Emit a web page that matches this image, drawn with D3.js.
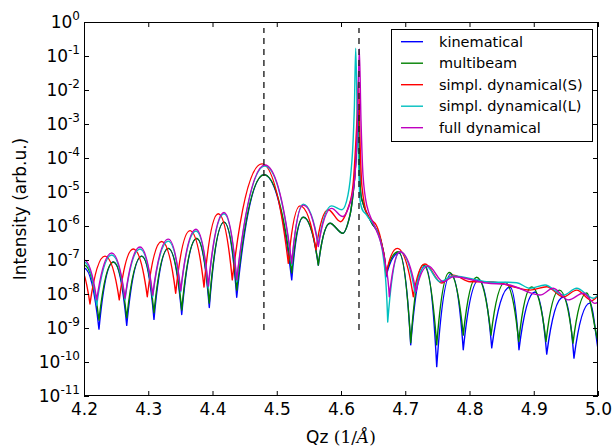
<!DOCTYPE html>
<html><head><meta charset="utf-8">
<script src="https://cdn.jsdelivr.net/npm/d3@7"></script>
<style>body{margin:0;background:#fff} svg{display:block} text{font-family:"DejaVu Sans",sans-serif}</style>
</head><body><svg id="c" width="612" height="448"></svg>
<script>
// ---------- data ----------
const seriesNames = ["kinematical", "multibeam", "simpl. dynamical(S)", "simpl. dynamical(L)", "full dynamical"];

const qKin = [4.2, 4.2233, 4.2456, 4.2665, 4.2898, 4.3089, 4.3312, 4.3521, 4.3754, 4.3950, 4.4179, 4.4377, 4.4802, 4.5233, 4.5413, 4.5647, 4.5829, 4.6027, 4.6140, 4.6202, 4.6241, 4.6269, 4.6296, 4.6342, 4.6400, 4.6482, 4.6580, 4.6654, 4.6700, 4.6903, 4.7085, 4.7307, 4.7490, 4.7712, 4.7903, 4.8148, 4.8346, 4.8630, 4.8770, 4.9019, 4.9202, 4.9460, 4.9626, 4.9875, 5.0054];
const iKin = [5.8e-8, 9.3e-10, 8.7e-8, 1.2e-9, 1.3e-7, 1.8e-9, 2.2e-7, 2.5e-9, 4.3e-7, 4.0e-9, 1.3e-6, 8.0e-9, 3.2e-5, 2.6e-8, 1.8e-6, 7.1e-8, 1.2e-6, 6.1e-7, 2.1e-6, 1.6e-5, 1.7e-4, 2.6e-3, 1.8e-5, 4.7e-6, 2.4e-6, 1.2e-6, 6.2e-7, 2.0e-7, 3.2e-8, 1.6e-7, 3.2e-10, 6.7e-8, 7.3e-11, 3.9e-8, 2.3e-10, 2.6e-8, 2.6e-10, 1.6e-8, 2.3e-10, 1.15e-8, 1.7e-10, 8.2e-9, 1.3e-10, 5.4e-9, 1.0e-10];

const qMulti = [4.2, 4.2233, 4.2456, 4.2665, 4.2898, 4.3089, 4.3312, 4.3521, 4.3754, 4.3950, 4.4179, 4.4377, 4.4802, 4.5233, 4.5413, 4.5647, 4.5829, 4.6027, 4.6140, 4.6202, 4.6241, 4.6269, 4.6296, 4.6342, 4.6400, 4.6482, 4.6580, 4.6654, 4.6700, 4.6892, 4.7085, 4.7281, 4.7490, 4.7686, 4.7903, 4.8112, 4.8335, 4.8553, 4.8766, 4.8968, 4.9191, 4.9398, 4.9611, 4.9824, 5.0034];
const iMulti = [7.1e-8, 1.7e-9, 8.7e-8, 2.0e-9, 1.3e-7, 2.8e-9, 2.2e-7, 3.4e-9, 4.3e-7, 5.4e-9, 1.3e-6, 1.3e-8, 3.2e-5, 4.2e-8, 1.8e-6, 7.1e-8, 1.2e-6, 6.1e-7, 2.1e-6, 1.6e-5, 1.7e-4, 2.6e-3, 1.8e-5, 4.7e-6, 2.4e-6, 1.2e-6, 6.2e-7, 2.0e-7, 3.9e-8, 1.75e-7, 3.7e-10, 7.1e-8, 3.2e-10, 4.3e-8, 6.2e-10, 3.1e-8, 6.2e-10, 2.2e-8, 4.0e-10, 1.6e-8, 4.0e-10, 1.3e-8, 3.6e-10, 1.07e-8, 3.2e-10];

const qDynS = [4.1886, 4.2093, 4.2327, 4.2549, 4.2767, 4.2985, 4.3209, 4.3427, 4.3650, 4.3868, 4.4090, 4.4308, 4.4770, 4.5180, 4.5362, 4.5611, 4.5802, 4.5992, 4.6125, 4.6187, 4.6241, 4.6272, 4.6300, 4.6327, 4.6400, 4.6555, 4.6638, 4.6700, 4.6876, 4.7125, 4.7307, 4.7568, 4.7748, 4.8008, 4.8268, 4.8475, 4.8682, 4.8942, 4.9202, 4.9460, 4.9668, 4.9902, 5.0125];
const iDynS = [8.7e-8, 5.1e-9, 1.3e-7, 6.7e-9, 2.1e-7, 8.3e-9, 3.5e-7, 1.05e-8, 7.3e-7, 1.6e-8, 2.3e-6, 2.6e-8, 6.7e-5, 8.0e-8, 3.9e-6, 2.0e-7, 3.0e-6, 1.34e-6, 4.1e-6, 1.6e-5, 6.7e-4, 2.0e-2, 1.7e-4, 1.4e-5, 2.4e-6, 1.0e-6, 2.8e-7, 3.6e-8, 2.2e-7, 8.3e-9, 7.6e-8, 2.1e-8, 3.6e-8, 2.3e-8, 2.3e-8, 2.1e-8, 1.64e-8, 1.3e-8, 1.64e-8, 8.2e-9, 1.3e-8, 6.4e-9, 1.5e-8];

const qDynL = [4.2, 4.2198, 4.2431, 4.2638, 4.2872, 4.3069, 4.3312, 4.3505, 4.3743, 4.3935, 4.4179, 4.4377, 4.4817, 4.5233, 4.5413, 4.5647, 4.5855, 4.6016, 4.6109, 4.6171, 4.6207, 4.6229, 4.6251, 4.6272, 4.6296, 4.6400, 4.6555, 4.6658, 4.6727, 4.6918, 4.7152, 4.7323, 4.7541, 4.7748, 4.8268, 4.8735, 4.8942, 4.9175, 4.9460, 4.9668, 4.9927, 5.0125];
const iDynL = [8.7e-8, 4.7e-9, 1.4e-7, 6.7e-9, 2.1e-7, 8.2e-9, 3.6e-7, 1.15e-8, 7.1e-7, 1.5e-8, 2.3e-6, 2.3e-8, 5.8e-5, 7.1e-8, 4.4e-6, 2.8e-7, 3.9e-6, 3.0e-6, 8.2e-6, 8.7e-5, 2.6e-3, 0.17, 2.6e-3, 1.0e-4, 5.8e-6, 2.1e-6, 7.6e-7, 1.25e-7, 1.5e-9, 1.75e-7, 1.07e-8, 6.7e-8, 2.3e-8, 3.4e-8, 2.3e-8, 2.15e-8, 1.47e-8, 1.84e-8, 9.3e-9, 1.47e-8, 7.5e-9, 1.6e-8];

const qFull = [4.2, 4.2198, 4.2431, 4.2638, 4.2872, 4.3069, 4.3312, 4.3505, 4.3743, 4.3935, 4.4179, 4.4377, 4.4817, 4.5233, 4.5413, 4.5647, 4.5855, 4.6027, 4.6156, 4.6218, 4.6258, 4.6285, 4.6311, 4.6342, 4.6400, 4.6502, 4.6607, 4.6685, 4.6752, 4.6918, 4.7167, 4.7359, 4.7592, 4.7748, 4.8268, 4.8630, 4.9097, 4.9304, 4.9538, 4.9771, 4.9953, 5.0187];
const iFull = [1.0e-7, 6.7e-9, 1.6e-7, 7.5e-9, 2.4e-7, 9.3e-9, 4.1e-7, 1.25e-8, 8.0e-7, 1.7e-8, 2.5e-6, 2.6e-8, 6.2e-5, 8.0e-8, 4.1e-6, 2.5e-7, 3.3e-6, 1.9e-6, 5.8e-6, 3.2e-5, 1.3e-3, 0.16, 1.3e-3, 3.2e-5, 4.1e-6, 1.2e-6, 3.9e-7, 8.7e-8, 8.3e-9, 1.75e-7, 1.17e-8, 6.7e-8, 2.3e-8, 3.2e-8, 2.1e-8, 1.84e-8, 9.3e-9, 1.47e-8, 6.7e-9, 1.05e-8, 5.3e-9, 1.07e-8];

const braggQ = [4.48, 4.628];
const braggRange = [8.7e-10, 0.67];

const xTickValues = [4.2, 4.3, 4.4, 4.5, 4.6, 4.7, 4.8, 4.9, 5.0];
const xTickLabels = ["4.2", "4.3", "4.4", "4.5", "4.6", "4.7", "4.8", "4.9", "5.0"];
const yTickExponents = [0, -1, -2, -3, -4, -5, -6, -7, -8, -9, -10, -11];

// ---------- layout ----------
const W = 612, H = 448, L = 84, R = 598, T = 22, B = 396;
const colors = ["#0000ff", "#008000", "#ff0000", "#00bfbf", "#bf00bf"];

const x = d3.scaleLinear().domain([4.2, 5.0]).range([L, R]);
const y = d3.scaleLog().domain([1e-11, 1]).range([B, T]);

const svg = d3.select("#c");
svg.append("rect").attr("width", W).attr("height", H).attr("fill", "#fff");
svg.append("defs").append("clipPath").attr("id", "clip")
  .append("rect").attr("x", L).attr("y", T).attr("width", R - L).attr("height", B - T);

// curve: smooth arches with cusp-like deep minima (Hermite through the read points)
function archPath(pts) {
  const n = pts.length, mL = new Array(n), mR = new Array(n);
  for (let i = 0; i < n; i++) {
    if (i === 0 || i === n - 1) { mL[i] = mR[i] = 0; continue; }
    const [x0, y0] = pts[i - 1], [x1, y1] = pts[i], [x2, y2] = pts[i + 1];
    const sL = (y1 - y0) / (x1 - x0), sR = (y2 - y1) / (x2 - x1);
    if (y1 < y0 && y1 < y2) { mL[i] = mR[i] = 0; }
    else if (y1 > y0 && y1 > y2) {
      if (Math.min(y1 - y0, y1 - y2) > 18) { mL[i] = 2.2 * sL; mR[i] = 2.2 * sR; }
      else { mL[i] = mR[i] = 0; }
    } else {
      let s = (y2 - y0) / (x2 - x0);
      const lim = 3 * Math.min(Math.abs(sL), Math.abs(sR));
      if (Math.abs(s) > lim) s = Math.sign(s) * lim;
      mL[i] = mR[i] = s;
    }
  }
  const p = d3.path();
  p.moveTo(pts[0][0], pts[0][1]);
  for (let i = 0; i < n - 1; i++) {
    const [x0, y0] = pts[i], [x1, y1] = pts[i + 1], h = (x1 - x0) / 3;
    p.bezierCurveTo(x0 + h, y0 + mR[i] * h, x1 - h, y1 - mL[i + 1] * h, x1, y1);
  }
  return p.toString();
}

const series = [
  {q: qKin, I: iKin}, {q: qMulti, I: iMulti}, {q: qDynS, I: iDynS},
  {q: qDynL, I: iDynL}, {q: qFull, I: iFull}
];

const plot = svg.append("g").attr("clip-path", "url(#clip)");
series.forEach((s, k) => {
  const pts = s.q.map((q, i) => [x(q), y(s.I[i])]);
  plot.append("path").attr("d", archPath(pts))
    .attr("fill", "none").attr("stroke", colors[k]).attr("stroke-width", 1.4)
    .attr("stroke-linejoin", "round");
});

// dashed Bragg markers
svg.selectAll("line.bragg").data(braggQ).enter().append("line")
  .attr("x1", d => x(d)).attr("x2", d => x(d))
  .attr("y1", y(braggRange[0])).attr("y2", y(braggRange[1]))
  .attr("stroke", "#222").attr("stroke-width", 1.4).attr("stroke-dasharray", "6,5");

// axes with inward ticks on all four sides
function styleAxis(g) { g.select(".domain").remove(); g.selectAll(".tick line").attr("stroke", "#000"); }
svg.append("g").attr("transform", `translate(0,${B})`)
  .call(d3.axisBottom(x).tickValues(xTickValues).tickFormat((d, i) => xTickLabels[i]).tickSize(-5).tickPadding(7))
  .call(styleAxis)
  .call(g => g.selectAll("text").attr("font-size", 17).attr("font-family", "DejaVu Sans").attr("fill", "#000"));
svg.append("g").attr("transform", `translate(0,${T})`)
  .call(d3.axisTop(x).tickValues(xTickValues).tickFormat("").tickSize(-5)).call(styleAxis);
const yTickVals = yTickExponents.map(e => Math.pow(10, e));
svg.append("g").attr("transform", `translate(${L},0)`)
  .call(d3.axisLeft(y).tickValues(yTickVals).tickFormat("").tickSize(-5)).call(styleAxis);
svg.append("g").attr("transform", `translate(${R},0)`)
  .call(d3.axisRight(y).tickValues(yTickVals).tickFormat("").tickSize(-5)).call(styleAxis);

// y tick labels with superscripts
yTickExponents.forEach(e => {
  const t = svg.append("text").attr("x", L - 4).attr("y", y(Math.pow(10, e)) + 6)
    .attr("text-anchor", "end").attr("font-size", 17).attr("fill", "#000");
  t.append("tspan").text("10");
  t.append("tspan").attr("dy", -8).attr("font-size", 12).text(String(e));
});

// frame
svg.append("rect").attr("x", L + 0.5).attr("y", T + 0.5).attr("width", R - L - 1).attr("height", B - T - 1)
  .attr("fill", "none").attr("stroke", "#000").attr("stroke-width", 1);

// axis titles
svg.append("text").attr("transform", "translate(26,209) rotate(-90)").attr("text-anchor", "middle")
  .attr("font-size", 17).attr("fill", "#000").text("Intensity (arb.u.)");
const xl = svg.append("text").attr("x", 341).attr("y", 443).attr("text-anchor", "middle")
  .attr("font-size", 17).attr("fill", "#000");
xl.append("tspan").text("Qz ");
xl.append("tspan").attr("font-family", "DejaVu Serif").text("(1/");
xl.append("tspan").attr("font-family", "DejaVu Serif").attr("font-style", "italic").text("Å");
xl.append("tspan").attr("font-family", "DejaVu Serif").text(")");

// legend
const lg = svg.append("g");
lg.append("rect").attr("x", 391.5).attr("y", 29.5).attr("width", 201).attr("height", 112)
  .attr("fill", "#fff").attr("stroke", "#000").attr("stroke-width", 1);
seriesNames.forEach((name, i) => {
  const yy = 41.7 + i * 21.5;
  lg.append("line").attr("x1", 401).attr("x2", 423).attr("y1", yy).attr("y2", yy)
    .attr("stroke", colors[i]).attr("stroke-width", 1.4);
  lg.append("text").attr("x", 439).attr("y", yy).attr("dy", "0.36em")
    .attr("font-size", 14.5).attr("fill", "#000").text(name);
});
</script>
</body></html>
